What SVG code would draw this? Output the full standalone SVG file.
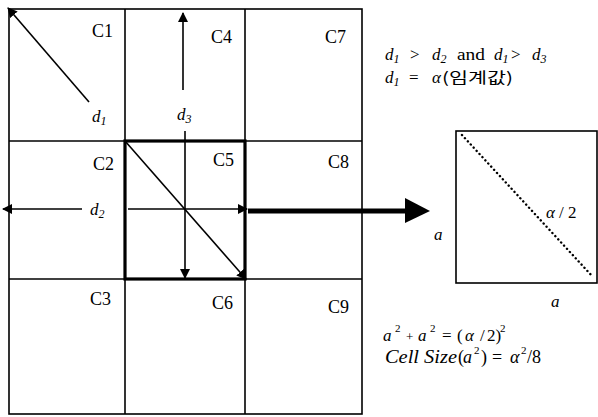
<svg xmlns="http://www.w3.org/2000/svg" width="598" height="417" viewBox="0 0 598 417">
<defs>
<marker id="ah" markerWidth="10" markerHeight="10" refX="9" refY="5" orient="auto" markerUnits="userSpaceOnUse">
<path d="M0,0 L10,5 L0,10 Z" fill="#000"/>
</marker>
</defs>
<rect width="598" height="417" fill="#fff"/>
<g id="grid" stroke="#000" stroke-width="1.6" fill="none">
<rect x="9" y="9" width="353" height="405"/>
<line x1="125" y1="9" x2="125" y2="414"/>
<line x1="245" y1="9" x2="245" y2="414"/>
<line x1="9" y1="141" x2="362" y2="141"/>
<line x1="9" y1="279" x2="362" y2="279"/>
</g>
<g id="C5box"><rect x="125" y="141" width="120" height="138" stroke="#000" stroke-width="3.2" fill="none"/></g>
<g id="C1"><text x="92" y="37" style="font-family:'Liberation Serif',serif !important;font-size:18px">C1</text></g>
<g id="C4"><text x="211" y="43" style="font-family:'Liberation Serif',serif !important;font-size:18px">C4</text></g>
<g id="C7"><text x="325" y="43" style="font-family:'Liberation Serif',serif !important;font-size:18px">C7</text></g>
<g id="C2"><text x="93" y="170" style="font-family:'Liberation Serif',serif !important;font-size:18px">C2</text></g>
<g id="C5"><text x="213" y="166" style="font-family:'Liberation Serif',serif !important;font-size:18px">C5</text></g>
<g id="C8"><text x="328" y="168" style="font-family:'Liberation Serif',serif !important;font-size:18px">C8</text></g>
<g id="C3"><text x="90" y="305" style="font-family:'Liberation Serif',serif !important;font-size:18px">C3</text></g>
<g id="C6"><text x="212" y="309" style="font-family:'Liberation Serif',serif !important;font-size:18px">C6</text></g>
<g id="C9"><text x="328" y="313" style="font-family:'Liberation Serif',serif !important;font-size:18px">C9</text></g>
<g id="connectors" stroke="#000" stroke-width="1.6" fill="none">
<line x1="89" y1="102" x2="8" y2="8" marker-end="url(#ah)"/>
<line x1="183" y1="90" x2="183" y2="13" marker-end="url(#ah)"/>
<line x1="185" y1="131" x2="185" y2="278" marker-end="url(#ah)"/>
<line x1="125" y1="141" x2="246" y2="279" marker-end="url(#ah)"/>
<line x1="82" y1="209" x2="3" y2="209" marker-end="url(#ah)"/>
<line x1="128" y1="209" x2="247" y2="209" marker-end="url(#ah)"/>
<line x1="248" y1="211" x2="408" y2="211" stroke-width="5"/>
<path d="M405,198 L430,211 L405,223 Z" fill="#000" stroke="none"/>
</g>
<g id="labels">
<text x="92" y="122" style="font-family:'Liberation Serif',serif !important;font-size:17px;font-style:italic">d<tspan font-size="12" dy="3">1</tspan></text>
<text x="177" y="120" style="font-family:'Liberation Serif',serif !important;font-size:17px;font-style:italic">d<tspan font-size="12" dy="3">3</tspan></text>
<text x="90" y="215" style="font-family:'Liberation Serif',serif !important;font-size:17px;font-style:italic">d<tspan font-size="12" dy="3">2</tspan></text>
</g>
<g id="formula1">
<text x="385" y="60" style="font-family:'Liberation Serif',serif !important;font-size:17px;font-style:italic">d<tspan font-size="12" dy="3">1</tspan></text>
<text x="410" y="60" style="font-family:'Liberation Serif',serif !important;font-size:17px">&gt;</text>
<text x="432" y="60" style="font-family:'Liberation Serif',serif !important;font-size:17px;font-style:italic">d<tspan font-size="12" dy="3">2</tspan></text>
<text x="457" y="60" textLength="28" lengthAdjust="spacingAndGlyphs" style="font-family:'Liberation Serif',serif !important;font-size:17px">and</text>
<text x="494" y="60" style="font-family:'Liberation Serif',serif !important;font-size:17px;font-style:italic">d<tspan font-size="12" dy="3">1</tspan></text>
<text x="511" y="60" style="font-family:'Liberation Serif',serif !important;font-size:17px">&gt;</text>
<text x="532" y="60" style="font-family:'Liberation Serif',serif !important;font-size:17px;font-style:italic">d<tspan font-size="12" dy="3">3</tspan></text>
<text x="385" y="83" style="font-family:'Liberation Serif',serif !important;font-size:17px;font-style:italic">d<tspan font-size="12" dy="3">1</tspan></text>
<text x="409" y="83" style="font-family:'Liberation Serif',serif !important;font-size:17px">=</text>
<text x="432" y="83" style="font-family:'Liberation Serif',serif !important;font-size:17px;font-style:italic">α</text>
<text x="442" y="83" textLength="71" lengthAdjust="spacingAndGlyphs" style="font-family:'Noto Sans CJK KR',sans-serif !important;font-size:15px">(임계값)</text>
</g>
<g id="square">
<rect x="456" y="131" width="141" height="152" stroke="#000" stroke-width="1.6" fill="none"/>
<line x1="462" y1="135" x2="593" y2="277" stroke="#000" stroke-width="2.4" stroke-dasharray="0.1 4.2" stroke-linecap="round"/>
<text y="218" style="font-family:'Liberation Serif',serif !important;font-size:17px"><tspan x="546" font-style="italic">α</tspan><tspan x="559">/</tspan><tspan x="568">2</tspan></text>
<text x="434" y="240" style="font-family:'Liberation Serif',serif !important;font-size:17px;font-style:italic">a</text>
<text x="551" y="307" style="font-family:'Liberation Serif',serif !important;font-size:17px;font-style:italic">a</text>
</g>
<g id="formula2">
<text y="341" style="font-family:'Liberation Serif',serif !important;font-size:17px"><tspan x="383" font-style="italic">a</tspan><tspan x="395" y="332" font-size="11">2</tspan><tspan x="406" y="341" font-size="13">+</tspan><tspan x="418" font-style="italic">a</tspan><tspan x="430" y="332" font-size="11">2</tspan><tspan x="442" y="341">=</tspan><tspan x="457">(</tspan><tspan x="465" font-style="italic">α</tspan><tspan x="480">/</tspan><tspan x="487">2)</tspan><tspan x="500" y="332" font-size="11">2</tspan></text>
<text x="385" y="363" textLength="72" lengthAdjust="spacingAndGlyphs" style="font-family:'Liberation Serif',serif !important;font-size:18px;font-style:italic">Cell Size</text>
<text y="363" style="font-family:'Liberation Serif',serif !important;font-size:18px"><tspan x="458">(</tspan><tspan x="463" font-style="italic">a</tspan><tspan x="474" y="354" font-size="11">2</tspan><tspan x="481" y="363">)</tspan><tspan x="492">=</tspan><tspan x="510" font-style="italic">α</tspan><tspan x="521" y="354" font-size="11">2</tspan><tspan x="527" y="363">/8</tspan></text>
</g>
</svg>
